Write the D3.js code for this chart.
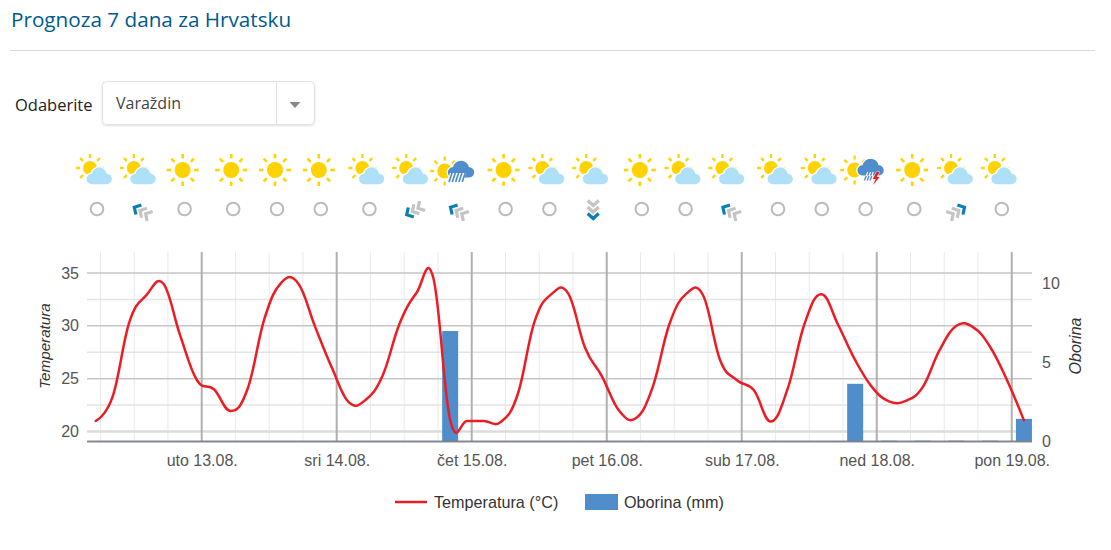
<!DOCTYPE html>
<html lang="hr"><head><meta charset="utf-8">
<script src="https://d3js.org/d3.v7.min.js"></script>
<style>html,body{margin:0;padding:0;background:#fff;overflow:hidden}svg{display:block}</style>
</head><body><svg id="c" width="1111" height="550"></svg>
<script>
const titleText = "Prognoza 7 dana za Hrvatsku";
const pickLabel = "Odaberite";
const pickValue = "Varaždin";
const dayLabels = ["uto 13.08.","sri 14.08.","čet 15.08.","pet 16.08.","sub 17.08.","ned 18.08.","pon 19.08."];
const tempTicks = [20,25,30,35];
const tempMinor = [22.5,27.5,32.5];
const rainTicks = [0,5,10];
// 3-hourly series, starting 12.08. around 05:00
const temperature = [21.0,23.3,30.4,32.9,34.0,29.1,24.85,24.0,21.95,24.05,30.7,34.1,34.0,29.9,26.0,22.75,
 23.0,25.3,30.2,33.1,34.55,21.1,21.0,21.0,20.9,23.5,30.4,33.0,33.05,27.9,25.2,22.0,
 21.25,24.2,30.2,33.05,32.85,26.75,24.85,23.9,20.95,24.05,30.2,33.0,30.05,26.75,24.2,22.85,
 22.9,24.2,27.7,30.0,29.85,28.0,24.85,21.05];
const rain = [0,0,0,0,0,0,0,0,0,0,0,0,0,0,0,0,0,0,0,0,0,6.97,0,0,0,0,0,0,0,0,0,0,
 0,0,0,0,0,0,0,0,0,0,0,0,0.03,3.64,0,0.05,0,0.05,0,0.05,0,0.05,0,1.43];
const skyIcons = ["partly","partly","sun","sun","sun","sun","partly","partly","rain","sun","partly","partly",
 "sun","partly","partly","partly","partly","storm","sun","partly","partly"];
// wind: compass bearing the arrow points to, null = calm
const windBearing = [null,300,null,null,null,null,null,240,300,null,null,180,null,null,300,null,null,null,null,60,null];
const legendLabels = ["Temperatura (°C)","Oborina (mm)"];

const C = {line:"#ed1c24",bar:"#4f8ecb",sun:"#ffd200",cloud:"#aee0f8",rainCloud:"#4f8ecb",arrow:"#c4c4c4",tip:"#0a7fb5",text:"#555"};
const svg = d3.select("#c");
const SANS = "'Liberation Sans',Arial,sans-serif", UI = "'Open Sans','Noto Sans',sans-serif";

// header
svg.append("text").attr("x",11).attr("y",27).attr("fill","#005a8e").attr("font-family",UI).attr("font-size",20.7).text(titleText);
svg.append("line").attr("x1",10).attr("x2",1095).attr("y1",50.5).attr("y2",50.5).attr("stroke","#d9dbdf");
svg.append("text").attr("x",15).attr("y",111).attr("fill","#222").attr("font-family",UI).attr("font-size",16.5).text(pickLabel);
const defs = svg.append("defs");
const fl = defs.append("filter").attr("id","sh").attr("x","-5%").attr("y","-10%").attr("width","110%").attr("height","125%");
fl.append("feDropShadow").attr("dx",0).attr("dy",1).attr("stdDeviation",1.2).attr("flood-color","#000").attr("flood-opacity",.13);
svg.append("rect").attr("x",102.5).attr("y",81.5).attr("width",212).attr("height",43).attr("rx",4).attr("fill","#fff").attr("stroke","#e2e2e2").attr("filter","url(#sh)");
svg.append("line").attr("x1",276.5).attr("x2",276.5).attr("y1",82).attr("y2",124).attr("stroke","#e2e2e2");
svg.append("path").attr("d","M289.5 102h11l-5.5 6z").attr("fill","#888");
svg.append("text").attr("x",116).attr("y",109).attr("fill","#444").attr("font-family",UI).attr("font-size",16).text(pickValue);

// icons
const slotX = d3.scaleLinear().domain([0,6]).range([97,97+6*136.2]);
const iconX = i => slotX(Math.floor(i/3)) + (i%3)*43.8;
function drawSun(g,cx,cy,r,r1,r2,w,rays){
  const a = rays || d3.range(8).map(k=>k*45);
  g.selectAll(null).data(a).join("line")
   .attr("x1",d=>cx+r1*Math.cos(d*Math.PI/180)).attr("y1",d=>cy+r1*Math.sin(d*Math.PI/180))
   .attr("x2",d=>cx+r2*Math.cos(d*Math.PI/180)).attr("y2",d=>cy+r2*Math.sin(d*Math.PI/180))
   .attr("stroke",C.sun).attr("stroke-width",w);
  g.append("circle").attr("cx",cx).attr("cy",cy).attr("r",r).attr("fill",C.sun);
}
const cloudD = "M5.3 17.6A5.3 5.3 0 0 1 5 7A7.6 7.6 0 0 1 20 7A5.3 5.3 0 0 1 19.7 17.6Z";
function drawCloud(g,x,y,sx,sy,fill){
  const tr = `translate(${x},${y}) scale(${sx},${sy})`;
  g.append("path").attr("d",cloudD).attr("transform",tr).attr("fill","#fff").attr("stroke","#fff").attr("stroke-width",2.4);
  g.append("path").attr("d",cloudD).attr("transform",tr).attr("fill",fill);
}
const icons = {
  sun(g){ drawSun(g,-2,170,8,11.5,16,2.6); },
  partly(g){ drawSun(g,-7,168,7,10,14,2.3,[0,45,-45,-90,-135,180,135]);
    drawCloud(g,-10.3,166.7,1,1,C.cloud); },
  rain(g){ drawSun(g,-12.3,171,7.5,10.5,14.5,2.3,[-90,-135,180,135,90,-45]);
    drawCloud(g,-9,160,1.04,1.0,C.rainCloud);
    g.append("path").attr("d","M-7 173h16l-3 9h-16z").attr("fill","#fff");
    g.selectAll(null).data([0,1,2,3,4]).join("line")
     .attr("x1",d=>-5+d*3.3).attr("x2",d=>-8+d*3.3).attr("y1",173).attr("y2",182)
     .attr("stroke",C.rainCloud).attr("stroke-width",1.7); },
  storm(g){ drawSun(g,-11,170,7.5,10.5,14.5,2.3,[-90,-135,180,135,90,-45]);
    drawCloud(g,-8,158,1.04,1.0,C.rainCloud);
    g.selectAll(null).data([0,1,2]).join("line")
     .attr("x1",d=>2+d*2.8).attr("x2",d=>-0.5+d*2.8).attr("y1",172).attr("y2",180)
     .attr("stroke","#fff").attr("stroke-width",1.1);
    g.selectAll(null).data([0,1,2]).join("line")
     .attr("x1",d=>0.6+d*2.8).attr("x2",d=>-1.2+d*2.8).attr("y1",176).attr("y2",180.5)
     .attr("stroke",C.rainCloud).attr("stroke-width",1.4);
    g.append("path").attr("d","M11 172l-4 7h3l-2.5 6l6.5-8h-3l3-5z").attr("fill",C.line).attr("stroke","#fff").attr("stroke-width",.8).attr("paint-order","stroke"); }
};
skyIcons.forEach((t,i)=> icons[t](svg.append("g").attr("transform",`translate(${iconX(i)},0)`)));
windBearing.forEach((b,i)=>{
  const x = iconX(i);
  if(b===null){
    svg.append("circle").attr("cx",x).attr("cy",209).attr("r",6.3).attr("fill","none").attr("stroke","#bbb").attr("stroke-width",2);
    return;
  }
  const g = svg.append("g").attr("transform",`translate(${x},211) rotate(${b})`);
  g.selectAll(null).data([2,1,0]).join("path")
   .attr("d",d=>`M-5.5 ${10.5-d*6.5}L0 ${5.5-d*6.5}L5.5 ${10.5-d*6.5}`)
   .attr("fill","none").attr("stroke",d=>d===2?C.tip:C.arrow).attr("stroke-width",3.2);
});

// chart
const T = h => new Date(Date.UTC(2019,7,12)+h*3600e3);
const times = temperature.map((_,i)=>T(5+1/6+3*i));
const L=87,R=1032,TOP=252,BASE=441.5;
const x = d3.scaleUtc().domain([T(24-114.7/5.625),T(24+147.6)]).range([L,R]);
const y = d3.scaleLinear().domain([20,35]).range([431.5,273]);
const yR = d3.scaleLinear().domain([0,10]).range([BASE,283]);
const barW = 16;

const dayTicks = dayLabels.map((_,i)=>T(24+24*i));
const minorX = d3.range(-3,25).map(k=>T(24+6*k)).filter(d=>x(d)>=L&&x(d)<=R&&d.getUTCHours()!==0);
const grid = svg.append("g");
grid.selectAll(".mx").data(minorX).join("line").attr("x1",x).attr("x2",x).attr("y1",TOP).attr("y2",BASE).attr("stroke","#eaeaea").attr("stroke-width",1);
grid.selectAll(".my").data(tempMinor).join("line").attr("x1",L).attr("x2",R).attr("y1",y).attr("y2",y).attr("stroke","#e4e4e4").attr("stroke-width",1.5);
grid.selectAll(".Y").data(tempTicks).join("line").attr("x1",L).attr("x2",R).attr("y1",y).attr("y2",y).attr("stroke",d=>d===20?"#dcdcdc":"#c6c6c8").attr("stroke-width",d=>d===20?2.5:1.5);
grid.selectAll(".X").data(dayTicks).join("line").attr("x1",x).attr("x2",x).attr("y1",TOP).attr("y2",BASE).attr("stroke","#b0b0b0").attr("stroke-width",2);

svg.append("g").selectAll("rect").data(rain.map((v,i)=>({v,t:times[i]})).filter(d=>d.v>0)).join("rect")
  .attr("x",d=>x(d.t)-barW/2).attr("width",d=>Math.min(barW,R-(x(d.t)-barW/2)))
  .attr("y",d=>yR(d.v)).attr("height",d=>BASE-yR(d.v)).attr("fill",C.bar);
svg.append("line").attr("x1",L).attr("x2",R).attr("y1",BASE).attr("y2",BASE).attr("stroke","#7c7f8a").attr("stroke-width",2).attr("opacity",.92);

const line = d3.line().x((d,i)=>x(times[i])).y(d=>y(d)).curve(d3.curveCardinal.tension(-0.2));
svg.append("path").datum(temperature).attr("d",line).attr("fill","none").attr("stroke",C.line).attr("stroke-width",2.5).attr("stroke-linejoin","round").attr("stroke-linecap","round");

function styleAxis(g){ g.select(".domain").remove(); g.selectAll(".tick line").remove();
  g.selectAll("text").attr("font-family",SANS).attr("font-size",16).attr("fill",C.text); }
svg.append("g").attr("transform",`translate(0,${BASE})`)
  .call(d3.axisBottom(x).tickValues(dayTicks).tickFormat((d,i)=>dayLabels[i]).tickSize(0).tickPadding(13.5)).call(styleAxis);
svg.append("g").attr("transform",`translate(${L-8},0)`)
  .call(d3.axisLeft(y).tickValues(tempTicks).tickSize(0).tickPadding(0)).call(styleAxis);
svg.append("g").attr("transform",`translate(${R+10},0)`)
  .call(d3.axisRight(yR).tickValues(rainTicks).tickSize(0).tickPadding(0)).call(styleAxis);

svg.append("text").attr("transform","translate(50,346) rotate(-90)").attr("text-anchor","middle").attr("font-family",SANS).attr("font-style","italic").attr("font-size",15.2).attr("fill","#333").text("Temperatura");
svg.append("text").attr("transform","translate(1081,346) rotate(-90)").attr("text-anchor","middle").attr("font-family",SANS).attr("font-style","italic").attr("font-size",16).attr("fill","#333").text("Oborina");

// legend
svg.append("line").attr("x1",395).attr("x2",427).attr("y1",502).attr("y2",502).attr("stroke",C.line).attr("stroke-width",2.5);
svg.append("text").attr("x",434).attr("y",508).attr("font-family",SANS).attr("font-size",16.2).attr("fill","#333").text(legendLabels[0]);
svg.append("rect").attr("x",585).attr("y",494).attr("width",33).attr("height",16).attr("fill",C.bar);
svg.append("text").attr("x",624).attr("y",508).attr("font-family",SANS).attr("font-size",16.2).attr("fill","#333").text(legendLabels[1]);
</script></body></html>
